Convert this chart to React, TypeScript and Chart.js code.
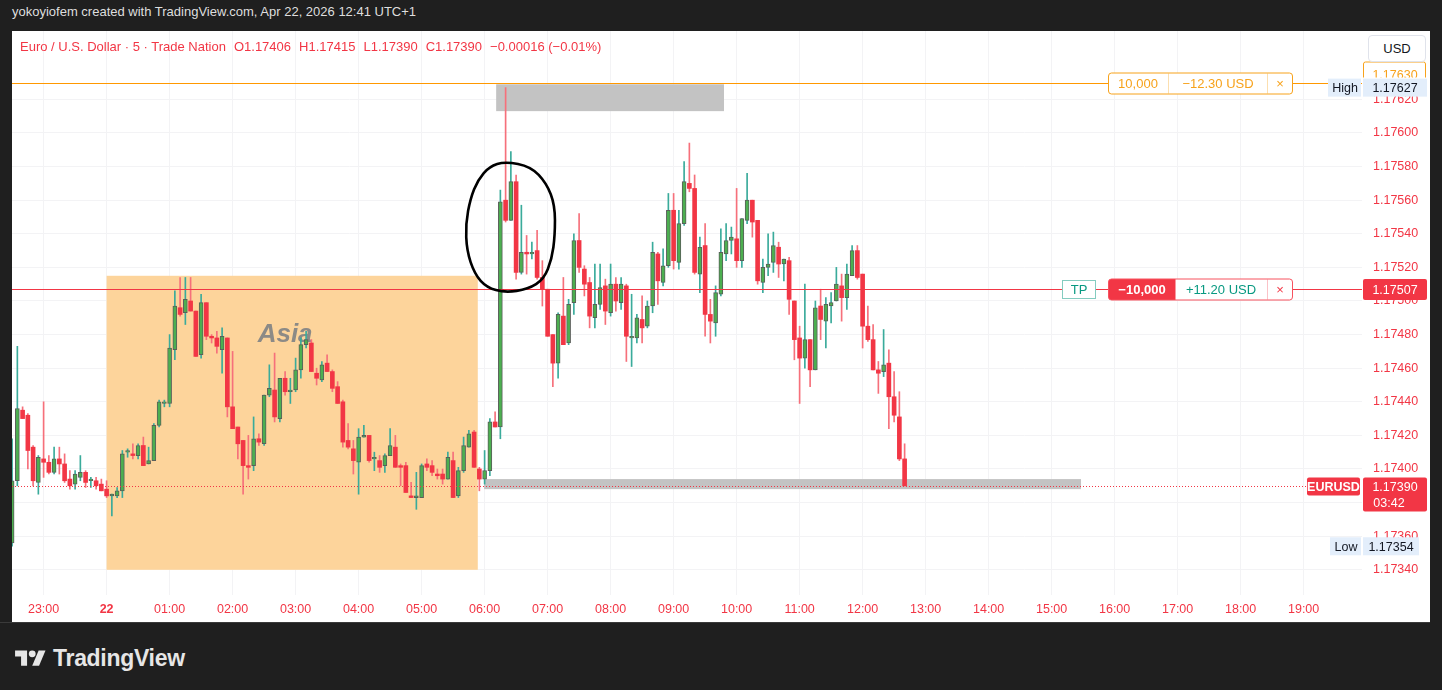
import React, { useEffect, useRef } from 'react';
import { Chart, registerables } from 'chart.js';
Chart.register(...registerables);

// EURUSD 5-minute bars, prices ×1e5, from 22:30 (bar -6) to 12:40 (bar 164); bar 0 = 23:00
const openPts = [
  117356,117393,117435,117432,117413,117392,
  117406,117404,117398,117406,117403,117394,117391,117395,117398,117393,117393,117391,
  117388,117384,117384,117387,117410,117409,117408,117414,117403,117405,117426,117439,
  117439,117471,117496,117493,117500,117494,117468,117499,117479,117478,117471,117478,
  117437,117425,117417,117402,117402,117418,117415,117444,117447,117430,117454,117446,
  117447,117459,117474,117475,117457,117453,117463,117458,117449,117440,117417,117412,
  117404,117419,117420,117406,117405,117402,117408,117413,117402,117402,117384,117383,
  117383,117403,117402,117397,117397,117394,117405,117384,117399,117413,117422,117400,
  117394,117399,117428,117425,117560,117548,117571,117517,117529,117528,117530,117514,
  117507,117480,117463,117491,117475,117499,117536,117519,117511,117490,117498,117509,
  117493,117510,117499,117509,117478,117478,117489,117485,117497,117528,117511,117521,
  117554,117523,117546,117570,117567,117516,117533,117492,117487,117504,117528,117536,
  117537,117524,117548,117560,117548,117511,117520,117523,117532,117522,117524,117500,
  117478,117466,117477,117459,117497,117488,117497,117500,117509,117502,117515,117530,
  117516,117485,117477,117459,117458,117463,117443,117431,117406,
];
const highPts = [
  117418,117473,117437,117433,117414,117408,
  117440,117408,117413,117413,117409,117399,117399,117408,117399,117395,117395,117394,
  117393,117385,117389,117411,117412,117415,117415,117419,117413,117427,117441,117441,
  117480,117506,117514,117514,117514,117494,117504,117499,117480,117482,117484,117478,
  117470,117425,117417,117420,117431,117421,117444,117462,117469,117454,117458,117454,
  117466,117478,117482,117477,117460,117464,117468,117459,117452,117441,117427,117417,
  117424,117426,117420,117410,117408,117409,117424,117420,117403,117404,117392,117398,
  117403,117406,117405,117400,117400,117410,117410,117401,117419,117423,117423,117401,
  117411,117430,117434,117566,117627,117589,117575,117557,117539,117535,117542,117524,
  117507,117480,117493,117514,117501,117540,117552,117521,117514,117522,117522,117513,
  117522,117514,117514,117510,117504,117492,117503,117500,117535,117529,117531,117564,
  117564,117554,117583,117594,117575,117538,117546,117501,117509,117543,117546,117544,
  117567,117549,117576,117560,117548,117525,117540,117541,117535,117525,117526,117500,
  117485,117510,117477,117500,117507,117502,117505,117520,117516,117522,117533,117533,
  117516,117497,117486,117464,117483,117471,117458,117446,117415,
];
const lowPts = [
  117354,117390,117430,117400,117390,117385,
  117395,117397,117397,117397,117392,117388,117388,117393,117389,117389,117388,117387,
  117383,117372,117383,117383,117407,117406,117406,117402,117403,117405,117425,117437,
  117437,117465,117491,117486,117494,117467,117466,117477,117475,117469,117457,117431,
  117424,117406,117385,117394,117399,117414,117414,117443,117428,117428,117444,117439,
  117446,117454,117472,117458,117450,117452,117458,117446,117439,117413,117412,117397,
  117385,117419,117404,117399,117398,117398,117408,117401,117390,117386,117383,117376,
  117383,117399,117396,117394,117391,117394,117383,117383,117398,117413,117401,117387,
  117391,117396,117425,117418,117547,117548,117513,117516,117516,117525,117513,117497,
  117479,117449,117454,117474,117474,117492,117517,117503,117484,117484,117495,117486,
  117491,117494,117495,117464,117461,117475,117475,117484,117493,117498,117509,117520,
  117519,117519,117545,117565,117516,117505,117479,117475,117479,117503,117524,117528,
  117520,117520,117546,117538,117510,117505,117515,117517,117514,117512,117492,117465,
  117439,117460,117449,117459,117477,117472,117487,117500,117488,117495,117515,117513,
  117472,117476,117459,117445,117455,117424,117428,117405,117390,
];
const closePts = [
  117393,117436,117430,117411,117393,117407,
  117404,117398,117406,117403,117393,117390,117397,117398,117392,117394,117390,117387,
  117384,117385,117387,117409,117411,117408,117414,117402,117405,117426,117440,117440,
  117472,117497,117492,117501,117494,117467,117499,117479,117478,117473,117479,117437,
  117424,117415,117402,117401,117418,117416,117444,117448,117431,117454,117446,117447,
  117459,117474,117477,117458,117454,117462,117458,117448,117439,117416,117413,117405,
  117419,117420,117405,117407,117401,117408,117414,117401,117401,117386,117383,117384,
  117402,117401,117398,117396,117394,117407,117383,117399,117414,117421,117401,117394,
  117399,117428,117425,117559,117548,117571,117517,117529,117528,117529,117514,117507,
  117479,117463,117492,117474,117498,117536,117520,117510,117491,117498,117508,117494,
  117510,117500,117510,117479,117479,117490,117484,117497,117529,117512,117521,117554,
  117524,117546,117571,117567,117517,117532,117492,117488,117505,117529,117536,117538,
  117524,117549,117560,117547,117512,117520,117522,117533,117522,117525,117501,117477,
  117466,117477,117459,117496,117489,117498,117499,117510,117502,117516,117530,117514,
  117485,117477,117459,117457,117462,117443,117432,117406,117390,
];
const FIRST_BAR = -6;

const timeTickBars = [0, 12, 24, 36, 48, 60, 72, 84, 96, 108, 120, 132, 144, 156, 168, 180, 192, 204, 216, 228, 240];
const timeTickLabels = ['23:00', '22', '01:00', '02:00', '03:00', '04:00', '05:00', '06:00', '07:00', '08:00', '09:00', '10:00', '11:00', '12:00', '13:00', '14:00', '15:00', '16:00', '17:00', '18:00', '19:00'];
const priceTicks = [1.1734, 1.1736, 1.1738, 1.174, 1.1742, 1.1744, 1.1746, 1.1748, 1.175, 1.1752, 1.1754, 1.1756, 1.1758, 1.176, 1.1762];

const positionPrice = 1.1763;
const tpPrice = 1.17507;
const dayHigh = 1.17627;
const dayLow = 1.17354;

// drawings in (bar, price) coordinates
const asiaBox = { x0: 12, x1: 82.7, p0: 1.17515, p1: 1.1734 };
const greyTop = { x0: 86.2, x1: 129.6, p0: 1.17629, p1: 1.17613 };
const greyBottom = { x0: 83.9, x1: 197.6, p0: 1.17394, p1: 1.17388 };
const asiaText = { x: 46, p: 1.1748 };
const loopPts: [number, number][] = [
  [87.9, 1.17583], [92.8, 1.1758], [95.8, 1.1757], [97.4, 1.17557], [97.4, 1.17539], [96.8, 1.17525],
  [95.3, 1.17513], [92.3, 1.17507], [87.9, 1.17505], [84.4, 1.17508], [82.1, 1.17516], [80.6, 1.1753],
  [80.4, 1.17546], [81.3, 1.17561], [82.7, 1.17572], [84.9, 1.1758],
];

const toPrice = (v: number) => v / 100000;
const FONT = '"Liberation Sans", Arial, sans-serif';
const RED = '#f23645';
const ORANGE = '#f7a21b';
const GREEN_TXT = '#089981';

function rr(ctx: CanvasRenderingContext2D, x: number, y: number, w: number, h: number, r: any) {
  ctx.beginPath();
  (ctx as any).roundRect(x, y, w, h, r);
}

const overlayPlugin = {
  id: 'overlays',
  beforeDatasetsDraw(chart: any) {
    const { ctx, chartArea: a, scales: { x, y } } = chart;
    ctx.save();
    ctx.beginPath();
    ctx.rect(a.left, a.top, a.right - a.left, a.bottom - a.top);
    ctx.clip();
    const rect = (b: any, color: string) => {
      const x0 = x.getPixelForValue(b.x0), x1 = x.getPixelForValue(b.x1);
      const y0 = y.getPixelForValue(b.p0), y1 = y.getPixelForValue(b.p1);
      ctx.fillStyle = color;
      ctx.fillRect(x0, y0, x1 - x0, y1 - y0);
    };
    rect(asiaBox, '#fdd49b');
    rect(greyTop, '#c3c3c3');
    rect(greyBottom, '#c3c3c3');
    ctx.font = `italic bold 26px ${FONT}`;
    ctx.fillStyle = '#8c8a86';
    ctx.textAlign = 'center';
    ctx.textBaseline = 'middle';
    ctx.fillText('Asia', x.getPixelForValue(asiaText.x), y.getPixelForValue(asiaText.p));
    ctx.restore();
  },
  afterDatasetsDraw(chart: any) {
    const { ctx, chartArea: a, scales: { x, y } } = chart;
    ctx.save();
    const solid = (p: number, color: string) => {
      const yy = Math.round(y.getPixelForValue(p));
      ctx.fillStyle = color;
      ctx.fillRect(a.left, yy, a.right - a.left, 1);
    };
    const dotted = (p: number, color: string) => {
      const yy = Math.round(y.getPixelForValue(p));
      ctx.fillStyle = color;
      for (let xx = a.left; xx < a.right; xx += 3) ctx.fillRect(xx, yy, 1, 1);
    };
    solid(positionPrice, '#ff9800');
    solid(tpPrice, '#f23645');
    dotted(toPrice(closePts[closePts.length - 1]), '#f23645');
    // hand-drawn loop
    const pts = loopPts.map(([k, p]) => [x.getPixelForValue(k), y.getPixelForValue(p)]);
    const n = pts.length;
    const mid = (p: number[], q: number[]) => [(p[0] + q[0]) / 2, (p[1] + q[1]) / 2];
    const m0 = mid(pts[n - 1], pts[0]);
    ctx.beginPath();
    ctx.moveTo(m0[0], m0[1]);
    for (let i = 0; i < n; i++) {
      const m = mid(pts[i], pts[(i + 1) % n]);
      ctx.quadraticCurveTo(pts[i][0], pts[i][1], m[0], m[1]);
    }
    ctx.closePath();
    ctx.lineWidth = 2.6;
    ctx.strokeStyle = '#000';
    ctx.lineJoin = 'round';
    ctx.stroke();
    ctx.restore();
  },
  afterDraw(chart: any) {
    const { ctx, chartArea: a, scales: { y } } = chart;
    const R = a.right;
    ctx.save();
    ctx.textBaseline = 'middle';
    const f = (s: number, w = 'normal') => `${w} ${s}px ${FONT}`;

    // order line label (orange)
    const yPos = Math.round(y.getPixelForValue(positionPrice)) + 0.5;
    const bx = R - 254, bw = 184, bh = 21;
    ctx.fillStyle = '#fff';
    rr(ctx, bx + 0.5, yPos - 10.5, bw, bh, 3); ctx.fill();
    ctx.strokeStyle = ORANGE; ctx.lineWidth = 1; ctx.stroke();
    ctx.strokeStyle = 'rgba(247,162,27,0.35)';
    ctx.beginPath(); ctx.moveTo(bx + 60.5, yPos - 10); ctx.lineTo(bx + 60.5, yPos + 10);
    ctx.moveTo(bx + 159.5, yPos - 10); ctx.lineTo(bx + 159.5, yPos + 10); ctx.stroke();
    ctx.fillStyle = ORANGE; ctx.font = f(13); ctx.textAlign = 'center';
    ctx.fillText('10,000', bx + 30, yPos + 1);
    ctx.fillText('\u221212.30 USD', bx + 110, yPos + 1);
    ctx.fillText('\u00d7', bx + 172, yPos + 1);

    // TP line label
    const yTp = Math.round(y.getPixelForValue(tpPrice)) + 0.5;
    ctx.fillStyle = '#fff';
    ctx.fillRect(R - 300, yTp - 9, 34, 18);
    ctx.setLineDash([1, 1]); ctx.strokeStyle = GREEN_TXT; ctx.strokeRect(R - 299.5, yTp - 9, 33, 18); ctx.setLineDash([]);
    ctx.fillStyle = GREEN_TXT; ctx.fillText('TP', R - 283, yTp + 1);
    ctx.fillStyle = '#fff';
    rr(ctx, bx + 0.5, yTp - 10.5, bw, bh, 3); ctx.fill();
    ctx.fillStyle = RED;
    rr(ctx, bx + 0.5, yTp - 10.5, 67, bh, [3, 0, 0, 3]); ctx.fill();
    rr(ctx, bx + 0.5, yTp - 10.5, bw, bh, 3); ctx.strokeStyle = '#f7525f'; ctx.stroke();
    ctx.strokeStyle = 'rgba(242,54,69,0.3)';
    ctx.beginPath(); ctx.moveTo(bx + 159.5, yTp - 10); ctx.lineTo(bx + 159.5, yTp + 10); ctx.stroke();
    ctx.fillStyle = '#fff'; ctx.font = f(13, '600');
    ctx.fillText('\u221210,000', bx + 34, yTp + 1);
    ctx.fillStyle = GREEN_TXT; ctx.font = f(13);
    ctx.fillText('+11.20 USD', bx + 113, yTp + 1);
    ctx.fillStyle = RED; ctx.fillText('\u00d7', bx + 172, yTp + 1);

    // price scale labels
    const ax = R + 1, aw = 64;
    ctx.font = f(12.5);
    // order price label, partly covered by the High label
    ctx.save();
    ctx.beginPath(); ctx.rect(ax - 1, 0, aw + 2, yPos - 6); ctx.clip();
    ctx.fillStyle = '#fff';
    rr(ctx, ax + 0.5, yPos - 21.5, aw - 2, 19, 2); ctx.fill(); ctx.strokeStyle = ORANGE; ctx.stroke();
    ctx.fillStyle = ORANGE; ctx.fillText(positionPrice.toFixed(5), ax + aw / 2, yPos - 8);
    ctx.restore();
    // High
    const yH = y.getPixelForValue(dayHigh);
    ctx.fillStyle = '#e3eefb';
    ctx.fillRect(R - 34, yH - 9, 33, 18);
    ctx.fillRect(ax, yH - 9, aw, 18);
    ctx.fillStyle = '#131722';
    ctx.fillText('High', R - 17, yH + 1);
    ctx.fillText(dayHigh.toFixed(5), ax + aw / 2, yH + 1);
    // TP price
    ctx.fillStyle = RED;
    rr(ctx, ax, yTp - 10.5, aw, 21, 2); ctx.fill();
    ctx.fillStyle = '#fff';
    ctx.fillText(tpPrice.toFixed(5), ax + aw / 2, yTp + 1);
    // last price
    const lastC = toPrice(closePts[closePts.length - 1]);
    const yL = Math.round(y.getPixelForValue(lastC)) + 0.5;
    ctx.fillStyle = RED;
    rr(ctx, R - 55, yL - 9, 53, 18, 2); ctx.fill();
    rr(ctx, ax, yL - 9, aw, 34, 2); ctx.fill();
    ctx.fillStyle = '#fff';
    ctx.font = f(12.5, 'bold');
    ctx.fillText('EURUSD', R - 28.5, yL + 1);
    ctx.font = f(12.5);
    ctx.fillText(lastC.toFixed(5), ax + aw / 2, yL + 1);
    ctx.fillText('03:42', ax + aw / 2 - 6, yL + 17);
    // Low
    const yLo = y.getPixelForValue(dayLow);
    ctx.fillStyle = '#e3eefb';
    ctx.fillRect(R - 32, yLo - 9, 31, 18);
    ctx.fillRect(ax, yLo - 9, 56, 18);
    ctx.fillStyle = '#131722';
    ctx.fillText('Low', R - 16, yLo + 1);
    ctx.fillText(dayLow.toFixed(5), ax + 28, yLo + 1);
    ctx.restore();
  },
};

export default function App() {
  const ref = useRef<HTMLCanvasElement>(null);
  useEffect(() => {
    const up = openPts.map((o, i) => closePts[i] >= o);
    const wickData = openPts.map((_, i) => ({ x: i + FIRST_BAR, y: [toPrice(lowPts[i]), toPrice(highPts[i])] }));
    const bodyData = openPts.map((o, i) => ({
      x: i + FIRST_BAR,
      y: [toPrice(Math.min(o, closePts[i])), toPrice(Math.max(o, closePts[i]))],
    }));
    const chart = new Chart(ref.current as HTMLCanvasElement, {
      type: 'bar',
      data: {
        datasets: [
          {
            label: 'body',
            data: bodyData as any,
            order: 0,
            grouped: false,
            barThickness: 4,
            minBarLength: 1,
            backgroundColor: up.map((u) => (u ? '#4caf50' : '#f23645')),
            borderColor: up.map((u) => (u ? '#5a5f5a' : '#f23645')),
            borderWidth: up.map((u) => (u ? 1 : 0)),
            borderSkipped: false,
          } as any,
          {
            label: 'wick',
            data: wickData as any,
            order: 1,
            grouped: false,
            barThickness: 1,
            backgroundColor: up.map((u) => (u ? '#3aab9b' : '#f6707b')),
            borderWidth: 0,
          } as any,
        ],
      },
      options: {
        responsive: false,
        animation: false,
        devicePixelRatio: 1,
        events: [],
        layout: { padding: 0 },
        plugins: { legend: { display: false }, tooltip: { enabled: false } },
        scales: {
          x: {
            type: 'linear',
            min: -6.02,
            max: 251.12,
            offset: false,
            grid: { offset: false, color: '#f3f3f5', drawTicks: false },
            border: { display: false },
            afterBuildTicks: (s: any) => { s.ticks = timeTickBars.map((v) => ({ value: v })); },
            afterFit: (s: any) => { s.height = 27; s.paddingLeft = 0; s.paddingRight = 0; },
            ticks: {
              padding: 7,
              color: RED,
              autoSkip: false,
              maxRotation: 0,
              font: (c: any) => ({ size: 12.5, family: FONT, weight: c.index === 1 ? 'bold' : 'normal' }),
              callback: (_v: any, i: number) => timeTickLabels[i],
            },
          },
          y: {
            type: 'linear',
            position: 'right',
            min: 1.17325,
            max: 1.176607,
            grid: { color: '#f3f3f5', drawTicks: false },
            border: { display: false },
            afterBuildTicks: (s: any) => { s.ticks = priceTicks.map((v) => ({ value: v })); },
            afterFit: (s: any) => { s.width = 68; s.paddingTop = 0; s.paddingBottom = 0; },
            ticks: {
              padding: 11,
              color: RED,
              font: { size: 12.5, family: FONT },
              callback: (v: any) => Number(v).toFixed(5),
            },
          },
        },
      } as any,
      plugins: [overlayPlugin],
    });
    return () => chart.destroy();
  }, []);

  const last = openPts.length - 1;
  const chg = closePts[last] - closePts[last - 1];
  const pct = (chg / closePts[last - 1]) * 100;
  const fmt = (v: number) => (v < 0 ? '\u2212' : '+') + Math.abs(v).toFixed(5);
  const legendVals = [
    'O' + toPrice(openPts[last]).toFixed(5),
    'H' + toPrice(highPts[last]).toFixed(5),
    'L' + toPrice(lowPts[last]).toFixed(5),
    'C' + toPrice(closePts[last]).toFixed(5),
    `${fmt(toPrice(chg))} (${pct < 0 ? '\u2212' : '+'}${Math.abs(pct).toFixed(2)}%)`,
  ];

  return (
    <div style={{ position: 'fixed', left: 0, top: 0, width: 1442, height: 690, background: '#1f1f1f', overflow: 'hidden', fontFamily: FONT }}>
      <div style={{ position: 'absolute', left: 12, top: 4, color: '#dedede', fontSize: 13, lineHeight: '16px' }}>
        yokoyiofem created with TradingView.com, Apr 22, 2026 12:41 UTC+1
      </div>
      <div style={{ position: 'absolute', left: 12, top: 31, width: 1418, height: 591, background: '#fff' }}>
        <canvas ref={ref} width={1418} height={591} style={{ display: 'block', width: 1418, height: 591 }} />
        <div style={{ position: 'absolute', left: 8, top: 8, color: RED, fontSize: 13, lineHeight: '16px', whiteSpace: 'pre' }}>
          <span>Euro / U.S. Dollar · 5 · Trade Nation</span>
          {legendVals.map((t, i) => (
            <span key={i} style={{ marginLeft: 8 }}>{t}</span>
          ))}
        </div>
        <div style={{ position: 'absolute', left: 1356, top: 4, width: 58, height: 27, boxSizing: 'border-box', border: '1px solid #e0e3eb', borderRadius: 4, background: '#fff', color: '#131722', fontSize: 13, display: 'flex', alignItems: 'center', justifyContent: 'center' }}>
          USD
        </div>
      </div>
      <div style={{ position: 'absolute', left: 0, top: 622, width: 1430, height: 1, background: '#3a3a3a' }} />
      <div style={{ position: 'absolute', left: 14, top: 645, display: 'flex', alignItems: 'center', color: '#e6e6e6' }}>
        <svg width="33" height="24" viewBox="0 0 36 28" style={{ display: 'block' }}>
          <path d="M14 22H7V11H0V4h14v18z" fill="#e6e6e6" />
          <circle cx="20" cy="8" r="4" fill="#e6e6e6" />
          <path d="M28 22h-8l7.5-18h8L28 22z" fill="#e6e6e6" />
        </svg>
        <span style={{ marginLeft: 6, fontSize: 23, fontWeight: 'bold', letterSpacing: -0.3 }}>TradingView</span>
      </div>
    </div>
  );
}
